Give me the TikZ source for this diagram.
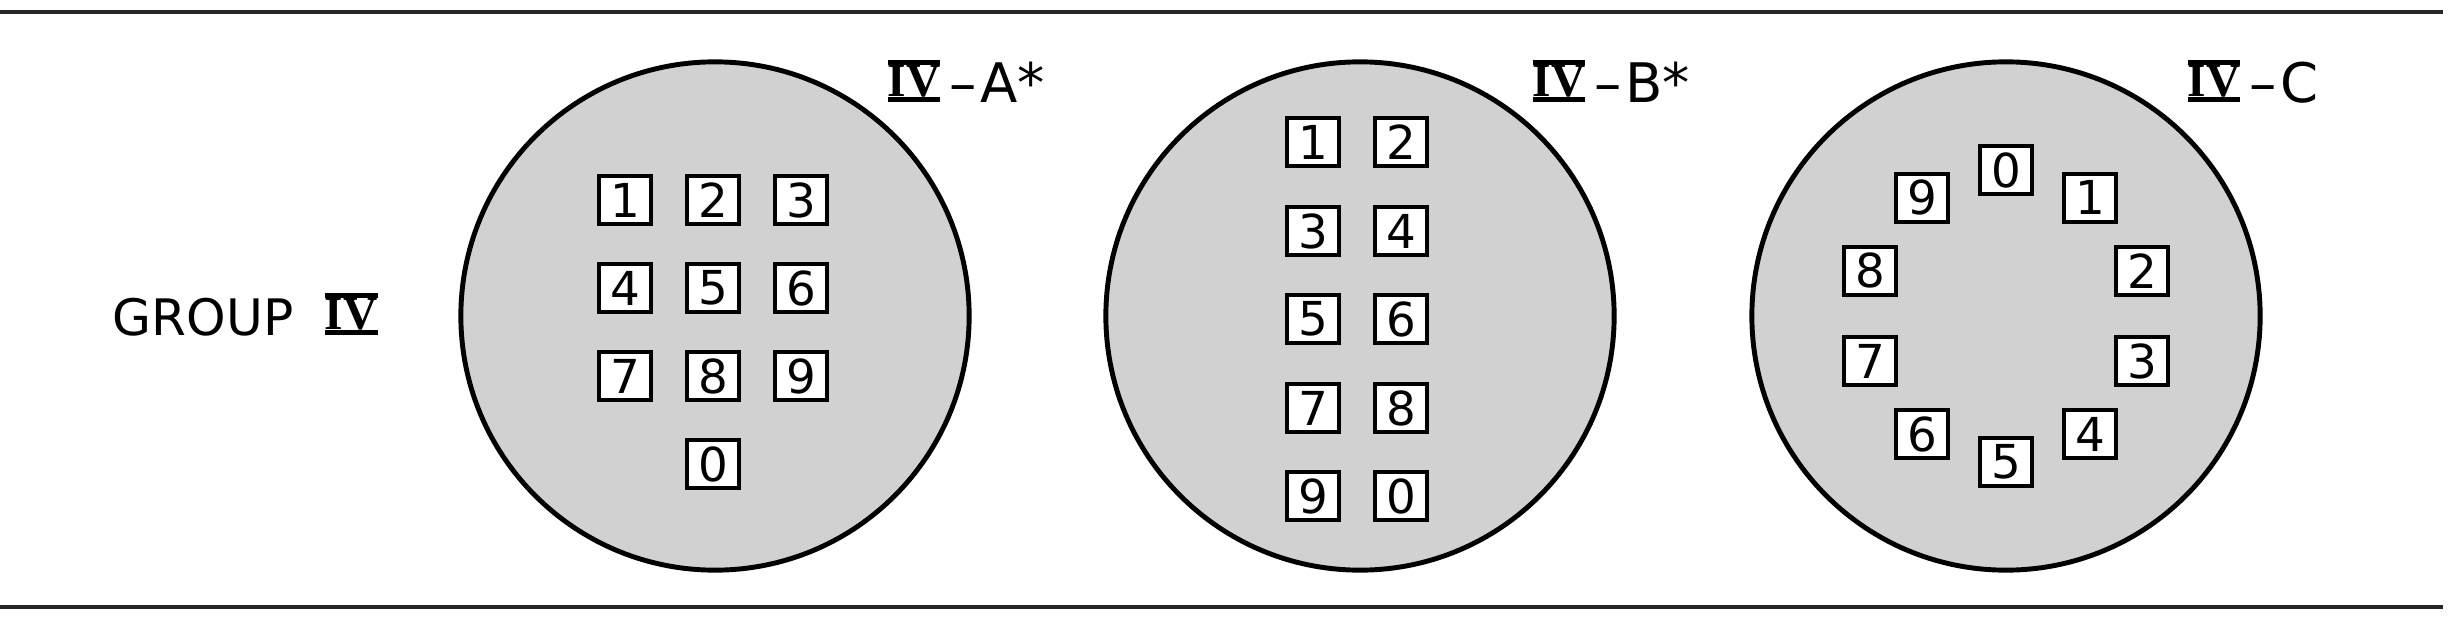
\documentclass[tikz,border=0pt]{standalone}
\usepackage{fontspec}
\setmainfont{DejaVu Sans}
\newfontfamily\romfont{Liberation Serif}
\newcommand{\rIV}{{\romfont\bfseries\fontsize{13.5}{15}\selectfont\vbox{\hrule height 1.4pt\hbox{IV}\hrule height 1.4pt}}}
\newcommand{\lbldash}{\hspace{2.5pt}\raisebox{0pt}{–}\hspace{1pt}}
\begin{document}
\begin{tikzpicture}[x=0.01cm,y=-0.01cm,
  disc/.style={draw=black,line width=1.4pt,fill=black!18},
  keybox/.style={draw=black,line width=1.3pt,fill=white,minimum width=0.52cm,minimum height=0.48cm,inner sep=0pt,font=\fontsize{13.3}{15}\selectfont},
  rule/.style={line width=1.1pt,black!85},
  lbl/.style={anchor=base west,inner sep=0pt,font=\fontsize{15.5}{18}\selectfont}]
\useasboundingbox (0,0) rectangle (2452,621);
% rules
\coordinate (tl) at (0,12); \coordinate (tr) at (2443,12);
\coordinate (bl) at (0,607); \coordinate (br) at (2443,607);
\draw[rule] (tl) -- (tr);
\draw[rule,line width=1.3pt] (bl) -- (br);
% circles
\node[disc,circle,minimum size=5.08cm,inner sep=0pt] (cA) at (715,316) {};
\node[disc,circle,minimum size=5.08cm,inner sep=0pt] (cB) at (1360,316) {};
\node[disc,circle,minimum size=5.08cm,inner sep=0pt] (cC) at (2006,316) {};
% labels
\node[anchor=base west,inner sep=0pt,font=\fontsize{14.3}{16}\selectfont] (grp) at (112,335) {GROUP\hspace{9pt}\rIV};
\node[lbl] (lA) at (887,102) {\rIV\lbldash A*};
\node[lbl] (lB) at (1532,102) {\rIV\lbldash B*};
\node[lbl] (lC) at (2187,102) {\rIV\lbldash C};
% IV-A keys
\foreach \d/\x/\y in {1/625/200,2/713/200,3/801/200,4/625/288,5/713/288,6/801/288,7/625/376,8/713/376,9/801/376,0/713/464}
  \node[keybox] (a\d) at (\x,\y) {\d};
% IV-B keys
\foreach \d/\x/\y in {1/1313/142,2/1401/142,3/1313/231,4/1401/231,5/1313/319,6/1401/319,7/1313/408,8/1401/408,9/1313/496,0/1401/496}
  \node[keybox] (b\d) at (\x,\y) {\d};
% IV-C keys
\foreach \d in {0,...,9}{
  \pgfmathsetmacro{\ang}{90-36*\d}
  \node[keybox] (c\d) at ({2006+143*cos(\ang)},{316-146*sin(\ang)}) {\d};
}
\end{tikzpicture}
\end{document}
